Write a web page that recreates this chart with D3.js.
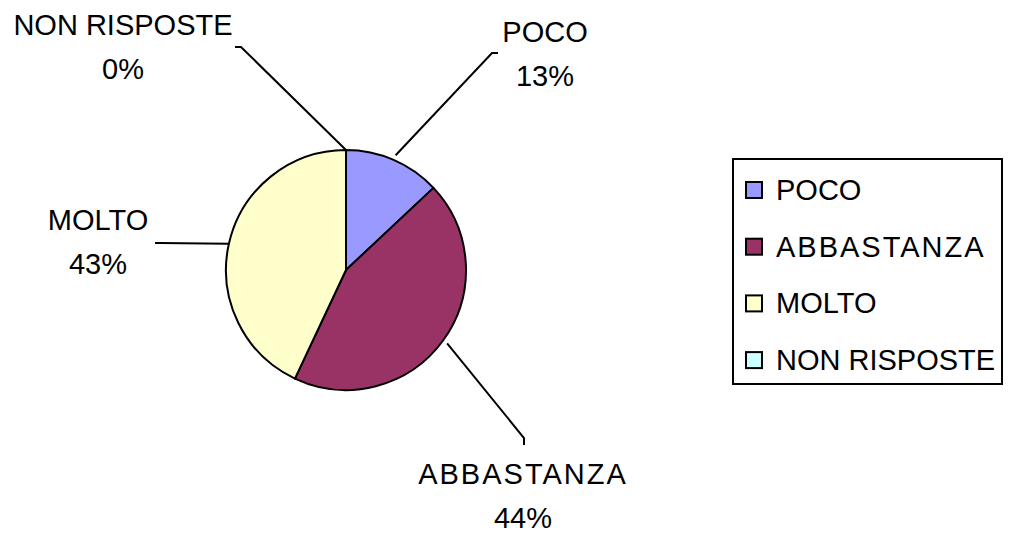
<!DOCTYPE html>
<html>
<head>
<meta charset="utf-8">
<script src="https://cdn.jsdelivr.net/npm/d3@7"></script>
<style>
  html, body { margin: 0; padding: 0; background: #fff; }
  svg { display: block; }
</style>
</head>
<body>
<div id="pie-chart"></div>
<script>
// data
const categories = ["POCO", "ABBASTANZA", "MOLTO", "NON RISPOSTE"];
const percentages = [13, 44, 43, 0];
const sliceColors = ["#9999FF", "#993366", "#FFFFCC", "#CCFFFF"];

const PieChart = (() => {
    const width = 1011;
    const height = 537;
    const cx = 346, cy = 270, radius = 120;
    const format = d3.format(".0%");
    const fontFamily = "Arial, 'Liberation Sans', sans-serif";

    // label layout: elbow point of the leader, tick end, text centre and first baseline
    const labelLayout = {
        "POCO":         { elbow: [492, 53],  tick: [498, 53],  text: [545, 42] },
        "ABBASTANZA":   { elbow: [524, 438], tick: [524, 445], text: [523, 484] },
        "MOLTO":        { elbow: [160, 243], tick: [155, 243], text: [98, 230] },
        "NON RISPOSTE": { elbow: [241, 47],  tick: [235, 47],  text: [123, 35] }
    };
    const lineGap = 44;

    const svg = d3.select("#pie-chart")
        .append("svg")
        .attr("width", width)
        .attr("height", height)
        .attr("font-family", fontFamily)
        .attr("font-size", 29);

    const color = d3.scaleOrdinal().domain(categories).range(sliceColors);

    function render() {
        const data = categories.map((name, i) => ({ name, value: percentages[i] }));
        const total = d3.sum(data, d => d.value);
        const arcs = d3.pie().sort(null).value(d => d.value)(data);
        const arc = d3.arc().innerRadius(0).outerRadius(radius);

        const g = svg.append("g").attr("transform", `translate(${cx},${cy})`);

        g.selectAll("path")
            .data(arcs)
            .join("path")
            .attr("d", arc)
            .attr("fill", d => color(d.data.name))
            .attr("stroke", "#000")
            .attr("stroke-width", 2)
            .attr("stroke-linejoin", "round");

        // leader lines from the slice edge to the label
        const leaders = svg.append("g")
            .attr("fill", "none")
            .attr("stroke", "#000")
            .attr("stroke-width", 2);

        arcs.forEach(d => {
            const mid = (d.startAngle + d.endAngle) / 2;
            const r = d.value > 0 && d.index < 2 ? radius + 5 : radius;
            const start = [cx + r * Math.sin(mid), cy - r * Math.cos(mid)];
            const lay = labelLayout[d.data.name];
            leaders.append("polyline")
                .attr("points", [start, lay.elbow, lay.tick].map(p => p.join(",")).join(" "));
        });

        const labels = svg.append("g")
            .attr("text-anchor", "middle")
            .attr("fill", "#000");

        arcs.forEach(d => {
            const lay = labelLayout[d.data.name];
            const t = labels.append("text");
            t.append("tspan")
                .attr("x", lay.text[0])
                .attr("y", lay.text[1])
                .attr("letter-spacing", d.data.name === "ABBASTANZA" ? 2 : 0)
                .text(d.data.name);
            t.append("tspan")
                .attr("x", lay.text[0])
                .attr("y", lay.text[1] + lineGap)
                .text(format(d.data.value / total));
        });

        // legend
        const legend = svg.append("g");
        legend.append("rect")
            .attr("x", 733)
            .attr("y", 159)
            .attr("width", 269)
            .attr("height", 225)
            .attr("fill", "#fff")
            .attr("stroke", "#000")
            .attr("stroke-width", 2);

        const item = legend.selectAll("g.item")
            .data(categories)
            .join("g")
            .attr("class", "item")
            .attr("transform", (d, i) => `translate(746, ${200 + i * 56.7})`);

        item.append("rect")
            .attr("x", 0)
            .attr("y", -18)
            .attr("width", 16)
            .attr("height", 16)
            .attr("fill", d => color(d))
            .attr("stroke", "#000")
            .attr("stroke-width", 2);

        item.append("text")
            .attr("x", 30)
            .attr("y", 0)
            .attr("letter-spacing", d => d === "ABBASTANZA" ? 2 : 0)
            .text(d => d);
    }

    return { render };
})();

PieChart.render();
</script>
</body>
</html>
